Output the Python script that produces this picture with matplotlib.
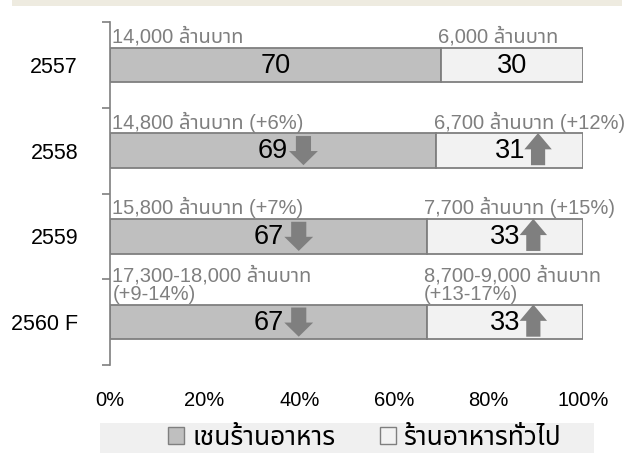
import matplotlib
matplotlib.use('Agg')
import matplotlib.pyplot as plt
import matplotlib.patches as mpatches

plt.rcParams['font.family'] = ['Liberation Sans', 'Noto Sans Thai', 'Loma', 'DejaVu Sans']

# data
years = ['2557', '2558', '2559', '2560 F']
chain_share = [70, 69, 67, 67]
general_share = [30, 31, 33, 33]
chain_labels = ['14,000 ล้านบาท', '14,800 ล้านบาท (+6%)', '15,800 ล้านบาท (+7%)',
                '17,300-18,000 ล้านบาท\n(+9-14%)']
general_labels = ['6,000 ล้านบาท', '6,700 ล้านบาท (+12%)', '7,700 ล้านบาท (+15%)',
                  '8,700-9,000 ล้านบาท\n(+13-17%)']
chain_trend = [0, -1, -1, -1]     # -1 = share down
general_trend = [0, 1, 1, 1]      # 1 = share up
x_ticks = [0, 20, 40, 60, 80, 100]
legend_names = ['เชนร้านอาหาร', 'ร้านอาหารทั่วไป']

c_chain = '#bfbfbf'
c_general = '#f2f2f2'
c_edge = '#7f7f7f'
c_note = '#7f7f7f'
bar_h = 0.4

fig = plt.figure(figsize=(6.37, 4.53), dpi=100)
# beige band at the top
fig.patches.append(mpatches.Rectangle((12 / 637, 1 - 6 / 453), 610 / 637, 6 / 453,
                                      transform=fig.transFigure, facecolor='#eeebe0',
                                      edgecolor='none'))
# legend band
fig.patches.append(mpatches.Rectangle((100 / 637, 0), 494 / 637, 30 / 453,
                                      transform=fig.transFigure, facecolor='#f0f0f0',
                                      edgecolor='none'))

ax = fig.add_axes([110 / 637, 88 / 453, 473 / 637, 343 / 453])
ypos = list(range(len(years)))

ax.barh(ypos, chain_share, height=bar_h, color=c_chain, edgecolor=c_edge, linewidth=1.3)
ax.barh(ypos, general_share, left=chain_share, height=bar_h, color=c_general,
        edgecolor=c_edge, linewidth=1.3)

for i in ypos:
    top = i - bar_h / 2
    # value labels above the bars
    ax.text(0.5, top - 0.01, chain_labels[i], color=c_note, fontsize=14.5,
            ha='left', va='bottom', linespacing=1.0)
    ax.text(chain_share[i] - 0.6, top - 0.01, general_labels[i], color=c_note, fontsize=14.5,
            ha='left', va='bottom', linespacing=1.0)
    # shares inside the bars
    mid_c = chain_share[i] / 2
    mid_g = chain_share[i] + general_share[i] / 2
    ax.text(mid_c, i + 0.01, str(chain_share[i]), fontsize=19.5, ha='center', va='center')
    ax.text(mid_g, i + 0.01, str(general_share[i]), fontsize=19.5, ha='center', va='center')
    if chain_trend[i] < 0:
        ax.add_patch(mpatches.FancyArrow(mid_c + 6.4, i - 0.17, 0, 0.34, width=3.2,
                                         head_width=6.1, head_length=0.165,
                                         length_includes_head=True, color=c_edge, lw=0))
    if general_trend[i] > 0:
        ax.add_patch(mpatches.FancyArrow(mid_g + 6.0, i + 0.17, 0, -0.375, width=3.0,
                                         head_width=5.8, head_length=0.19,
                                         length_includes_head=True, color=c_edge, lw=0))

ax.set_xlim(0, 100)
ax.set_ylim(len(years) - 0.5, -0.5)
ax.set_xticks(x_ticks)
ax.set_xticklabels([f'{v}%' for v in x_ticks], fontsize=14.5)
ax.tick_params(axis='x', length=0, pad=19)

ax.set_yticks([i - 0.5 for i in range(len(years) + 1)])
ax.set_yticklabels([])
ax.set_yticks(ypos, minor=True)
ax.set_yticklabels(years, minor=True, fontsize=15.5)
ax.tick_params(axis='y', which='major', length=6, width=1.2, color=c_edge)
ax.tick_params(axis='y', which='minor', length=0, pad=23)

for side in ['top', 'right', 'bottom']:
    ax.spines[side].set_visible(False)
ax.spines['left'].set_color(c_edge)
ax.spines['left'].set_linewidth(1.2)

handles = [mpatches.Patch(facecolor=c_chain, edgecolor=c_edge, label=legend_names[0]),
           mpatches.Patch(facecolor=c_general, edgecolor=c_edge, label=legend_names[1])]
fig.legend(handles=handles, loc='center', bbox_to_anchor=(365 / 637, 15 / 453), ncol=2,
           frameon=False, fontsize=19, handlelength=0.6, handleheight=0.6,
           handletextpad=0.3, columnspacing=1.7, borderpad=0)

fig.savefig('out.png', dpi=100)
